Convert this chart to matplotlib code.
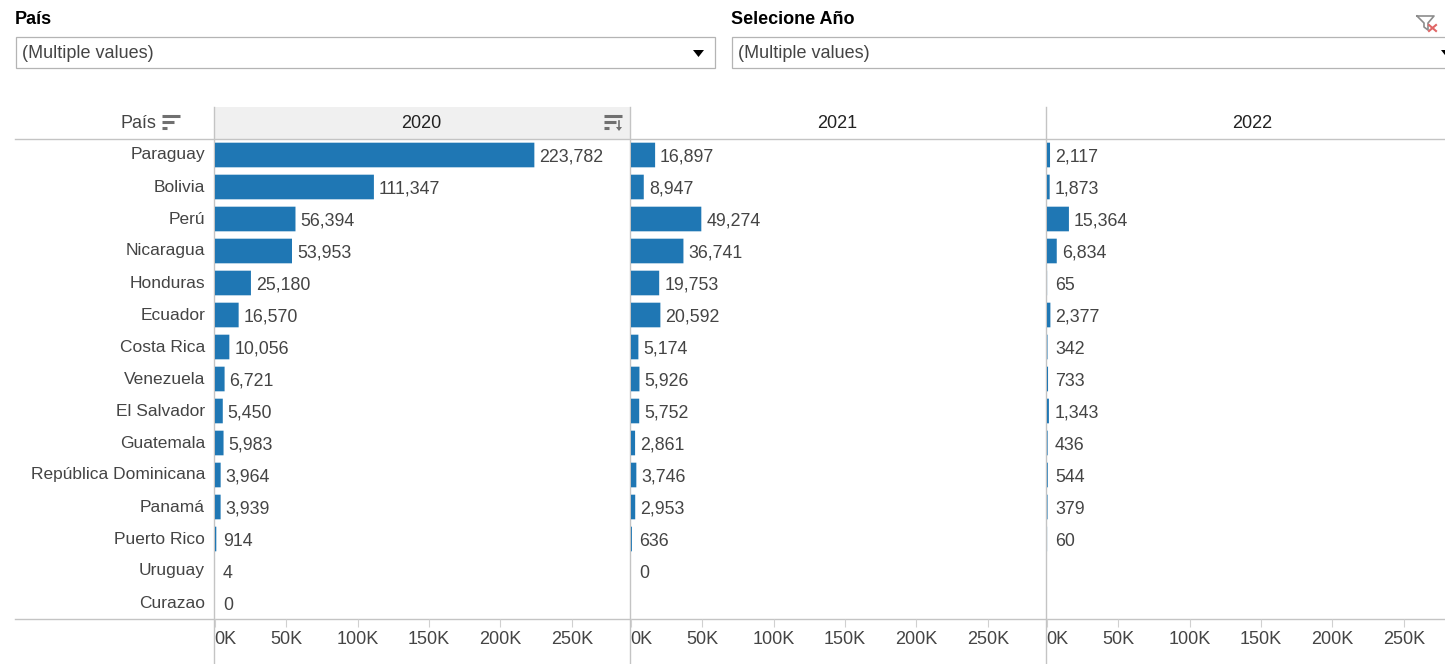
import matplotlib
matplotlib.use("Agg")
import matplotlib.pyplot as plt
from matplotlib.patches import Polygon, Rectangle

plt.rcParams['font.family'] = ['Liberation Sans', 'DejaVu Sans']

countries = ['Paraguay', 'Bolivia', 'Perú', 'Nicaragua', 'Honduras', 'Ecuador', 'Costa Rica',
             'Venezuela', 'El Salvador', 'Guatemala', 'República Dominicana', 'Panamá',
             'Puerto Rico', 'Uruguay', 'Curazao']
years = ['2020', '2021', '2022']
values_2020 = [223782, 111347, 56394, 53953, 25180, 16570, 10056, 6721, 5450, 5983, 3964, 3939, 914, 4, 0]
values_2021 = [16897, 8947, 49274, 36741, 19753, 20592, 5174, 5926, 5752, 2861, 3746, 2953, 636, 0, None]
values_2022 = [2117, 1873, 15364, 6834, 65, 2377, 342, 733, 1343, 436, 544, 379, 60, None, None]
x_ticks = [0, 50000, 100000, 150000, 200000, 250000]
x_tick_labels = ['0K', '50K', '100K', '150K', '200K', '250K']

W, H = 1445, 664
BLUE = '#1f77b4'
TEXT = '#444444'
LINE = '#c4c4c4'
FS = 13
PX_PER_UNIT = 416 / 291500


def add_panel(fig, left, right, values, x_max):
    # left/right are pixels, the y range is the 15 rows between the two rules
    ax = fig.add_axes([left / W, 1 - 619 / H, (right - left) / W, 480 / H])
    rows = list(range(len(countries)))
    for row, value in zip(rows, values):
        if value is None:
            continue
        ax.barh(row, value, height=0.77, color=BLUE, linewidth=0, snap=False)
        # short bars keep their label at a fixed spot, like the reference
        gap = max(5, 8 - value * PX_PER_UNIT)
        ax.annotate(f'{value:,}', (value, row), xytext=(gap, -2), textcoords='offset pixels',
                    va='center', ha='left', fontsize=12.8, color=TEXT)
    ax.set_xlim(-700, x_max)
    ax.set_ylim(len(countries) - 0.5, -0.5)
    ax.set_yticks([])
    ax.set_xticks(x_ticks)
    # the first label starts at the panel edge, so it goes in by hand
    ax.set_xticklabels([''] + x_tick_labels[1:], fontsize=FS, color=TEXT)
    ax.annotate(x_tick_labels[0], (x_ticks[0], 0), xycoords=ax.get_xaxis_transform(),
                xytext=(-1, -12.5), textcoords='offset pixels', va='top', ha='left',
                fontsize=FS, color=TEXT, annotation_clip=False)
    ax.tick_params(axis='x', length=6, width=0.8, color='#d0d0d0', pad=3)
    ax.patch.set_alpha(0)
    for side in ax.spines:
        ax.spines[side].set_visible(False)
    return ax


def sort_icon(ov, x, y, arrow=False):
    ov.plot([x, x + 18], [y, y], color='#707070', lw=2.2, solid_capstyle='butt')
    ov.plot([x, x + 12], [y + 6, y + 6], color='#707070', lw=2.2, solid_capstyle='butt')
    ov.plot([x, x + 5], [y + 12, y + 12], color='#707070', lw=2.2, solid_capstyle='butt')
    if arrow:
        ov.plot([x + 15, x + 15], [y + 5, y + 13], color='#707070', lw=1.2)
        ov.add_patch(Polygon([[x + 12, y + 11], [x + 18, y + 11], [x + 15, y + 15]], color='#707070', lw=0))


fig = plt.figure(figsize=(W / 100, H / 100), dpi=100, facecolor='white')

# overlay in pixel coordinates for the dashboard chrome
ov = fig.add_axes([0, 0, 1, 1])
ov.set_xlim(0, W)
ov.set_ylim(H, 0)
ov.axis('off')

ov.add_patch(Rectangle((215, 107), 415, 32, color='#f0f0f0', lw=0))
ov.plot([15, W], [139, 139], color=LINE, lw=1)
ov.plot([15, W], [619, 619], color=LINE, lw=1)
for x in (213.6, 629.6, 1045.6):
    ov.plot([x, x], [107, 664], color=LINE, lw=1)

# filter boxes
ov.text(15, 20, 'País', fontsize=FS, fontweight='bold', color='black', va='center')
ov.text(731, 20, 'Selecione Año', fontsize=FS, fontweight='bold', color='black', va='center')
ov.add_patch(Rectangle((16, 37), 699, 31, fc='white', ec='#b4b4b4', lw=0.9))
ov.add_patch(Rectangle((732, 37), 720, 31, fc='white', ec='#b4b4b4', lw=0.9))
ov.text(22, 54, '(Multiple values)', fontsize=FS, color=TEXT, va='center')
ov.text(738, 54, '(Multiple values)', fontsize=FS, color=TEXT, va='center')
ov.add_patch(Polygon([[693, 50], [704, 50], [698.5, 57]], color='black', lw=0))
ov.add_patch(Polygon([[1441, 50], [1452, 50], [1446.5, 57]], color='black', lw=0))

# clear-filter icon
ov.plot([1417, 1434, 1428, 1428, 1424, 1424, 1417], [16, 16, 23, 30, 27, 23, 16], color='#8c8c8c', lw=1.2)
ov.plot([1429, 1436], [25, 31], color='#e06666', lw=1.5)
ov.plot([1436, 1429], [25, 31], color='#e06666', lw=1.5)

# header row
ov.text(156, 123, 'País', fontsize=FS, color=TEXT, va='center', ha='right')
sort_icon(ov, 162, 116)
sort_icon(ov, 604, 116, arrow=True)
ov.text(421.5, 123, years[0], fontsize=FS, color='#222222', va='center', ha='center')
ov.text(837, 123, years[1], fontsize=FS, color='#222222', va='center', ha='center')
ov.text(1252.5, 123, years[2], fontsize=FS, color='#222222', va='center', ha='center')

# country names
for i, name in enumerate(countries):
    ov.text(205, 155 + 32 * i, name, fontsize=12.5, color=TEXT, va='center', ha='right')

x_max_full = 290800
add_panel(fig, 214, 630, values_2020, x_max_full)
add_panel(fig, 630, 1046, values_2021, x_max_full)
add_panel(fig, 1046, W, values_2022, x_max_full * 399 / 416)

fig.savefig('out.png', dpi=100)
